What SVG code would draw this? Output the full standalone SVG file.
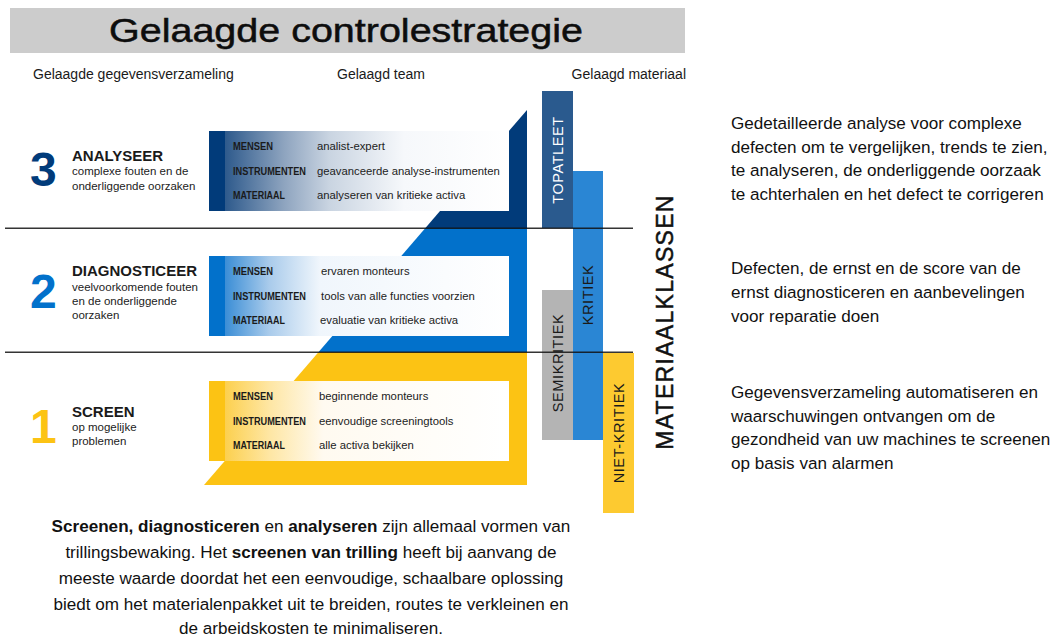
<svg xmlns="http://www.w3.org/2000/svg" width="1054" height="637" viewBox="0 0 1054 637">
<defs>
<style>
text{font-family:"Liberation Sans",Arial,sans-serif;fill:#1a1a1a}
.sub{font-size:14px}
.num{font-size:48px;font-weight:bold}
.lvl{font-size:15px;font-weight:bold}
.desc{font-size:11.5px;fill:#222}
.lab{font-size:11.5px;font-weight:bold}
.val{font-size:11.3px;fill:#222}
.bar{font-size:14.5px;letter-spacing:0.6px;text-anchor:middle;dominant-baseline:central}
.rt{font-size:17.1px;fill:#111}
.bt{font-size:17.1px;fill:#111;text-anchor:middle}
.b{font-weight:bold}
</style>
<linearGradient id="g3" gradientUnits="userSpaceOnUse" x1="209" y1="0" x2="509" y2="0">
<stop offset="0" stop-color="#2e5a8c"/><stop offset="0.054" stop-color="#2e5a8c"/><stop offset="0.25" stop-color="#8ea4bf"/><stop offset="0.4" stop-color="#c9d4e1"/><stop offset="0.65" stop-color="#f6f8fb"/><stop offset="1" stop-color="#ffffff"/>
</linearGradient>
<linearGradient id="g2" gradientUnits="userSpaceOnUse" x1="209" y1="0" x2="509" y2="0">
<stop offset="0" stop-color="#3b8ed6"/><stop offset="0.054" stop-color="#3b8ed6"/><stop offset="0.2" stop-color="#a9cbeb"/><stop offset="0.37" stop-color="#f0f6fc"/><stop offset="1" stop-color="#ffffff"/>
</linearGradient>
<linearGradient id="g1" gradientUnits="userSpaceOnUse" x1="209" y1="0" x2="509" y2="0">
<stop offset="0" stop-color="#fcd04f"/><stop offset="0.054" stop-color="#fcd04f"/><stop offset="0.2" stop-color="#fee6a3"/><stop offset="0.38" stop-color="#fffaf0"/><stop offset="1" stop-color="#ffffff"/>
</linearGradient>
</defs>
<rect width="1054" height="637" fill="#ffffff"/>

<g id="title">
<rect x="10" y="8" width="675" height="45" fill="#cccccc"/>
<text x="346" y="42" font-size="33" text-anchor="middle" textLength="474" lengthAdjust="spacingAndGlyphs" style="fill:#0d0d0d;stroke:#0d0d0d;stroke-width:0.5">Gelaagde controlestrategie</text>
</g>

<g id="subheads">
<text class="sub" x="33" y="79">Gelaagde gegevensverzameling</text>
<text class="sub" x="337" y="79">Gelaagd team</text>
<text class="sub" x="686" y="79" text-anchor="end">Gelaagd materiaal</text>
</g>

<g id="bands">
<polygon points="527,110 527,228 425.4,228" fill="#013b7a"/>
<polygon points="425.4,228 527,228 527,352 318.6,352" fill="#0271cb"/>
<polygon points="318.6,352 527,352 527,485 204,485" fill="#fcc314"/>
</g>

<g id="level3">
<text class="num" x="30" y="186" style="fill:#013b7a">3</text>
<text class="lvl" x="72" y="161">ANALYSEER</text>
<text class="desc" x="72" y="175">complexe fouten en de</text>
<text class="desc" x="72" y="190">onderliggende oorzaken</text>
<rect x="209" y="131" width="300" height="80" fill="url(#g3)"/>
<rect x="209" y="131" width="16" height="80" fill="#013b7a"/>
<text class="lab" x="233" y="150" textLength="40" lengthAdjust="spacingAndGlyphs">MENSEN</text>
<text class="lab" x="233" y="175" textLength="73" lengthAdjust="spacingAndGlyphs">INSTRUMENTEN</text>
<text class="lab" x="233" y="199" textLength="52" lengthAdjust="spacingAndGlyphs">MATERIAAL</text>
<text class="val" x="317" y="150">analist-expert</text>
<text class="val" x="317" y="175">geavanceerde analyse-instrumenten</text>
<text class="val" x="317" y="199">analyseren van kritieke activa</text>
</g>

<g id="level2">
<text class="num" x="30" y="308" style="fill:#0271cb">2</text>
<text class="lvl" x="72" y="276">DIAGNOSTICEER</text>
<text class="desc" x="72" y="291">veelvoorkomende fouten</text>
<text class="desc" x="72" y="305">en de onderliggende</text>
<text class="desc" x="72" y="319">oorzaken</text>
<rect x="209" y="256" width="300" height="80" fill="url(#g2)"/>
<rect x="209" y="256" width="16" height="80" fill="#0271cb"/>
<text class="lab" x="233" y="275" textLength="40" lengthAdjust="spacingAndGlyphs">MENSEN</text>
<text class="lab" x="233" y="300" textLength="73" lengthAdjust="spacingAndGlyphs">INSTRUMENTEN</text>
<text class="lab" x="233" y="324" textLength="52" lengthAdjust="spacingAndGlyphs">MATERIAAL</text>
<text class="val" x="321" y="275">ervaren monteurs</text>
<text class="val" x="321" y="300">tools van alle functies voorzien</text>
<text class="val" x="320" y="324">evaluatie van kritieke activa</text>
</g>

<g id="level1">
<text class="num" x="30" y="443" style="fill:#fcc314">1</text>
<text class="lvl" x="72" y="417">SCREEN</text>
<text class="desc" x="72" y="431">op mogelijke</text>
<text class="desc" x="72" y="445">problemen</text>
<rect x="209" y="381" width="300" height="80" fill="url(#g1)"/>
<rect x="209" y="381" width="16" height="80" fill="#fcc314"/>
<text class="lab" x="233" y="400" textLength="40" lengthAdjust="spacingAndGlyphs">MENSEN</text>
<text class="lab" x="233" y="425" textLength="73" lengthAdjust="spacingAndGlyphs">INSTRUMENTEN</text>
<text class="lab" x="233" y="449" textLength="52" lengthAdjust="spacingAndGlyphs">MATERIAAL</text>
<text class="val" x="319" y="400">beginnende monteurs</text>
<text class="val" x="319" y="425">eenvoudige screeningtools</text>
<text class="val" x="319" y="449">alle activa bekijken</text>
</g>

<g id="material-classes">
<g id="topatleet"><rect x="542" y="91" width="31" height="137" fill="#2a5a8e"/>
<text class="bar" transform="translate(557.5,160) rotate(-90)" style="fill:#ffffff">TOPATLEET</text></g>
<g id="kritiek"><rect x="573" y="171" width="30" height="269" fill="#2a86d4"/>
<text class="bar" transform="translate(588,295) rotate(-90)">KRITIEK</text></g>
<g id="semikritiek"><rect x="542" y="290" width="31" height="150" fill="#b4b4b4"/>
<text class="bar" transform="translate(557.5,363) rotate(-90)">SEMIKRITIEK</text></g>
<g id="niet-kritiek"><rect x="603" y="353" width="31" height="160" fill="#fdca30"/>
<text class="bar" transform="translate(618.5,433) rotate(-90)">NIET-KRITIEK</text></g>
<text transform="translate(665,322) rotate(-90)" font-size="23" letter-spacing="1.3" text-anchor="middle" dominant-baseline="central" style="fill:#111;stroke:#111;stroke-width:0.5">MATERIAALKLASSEN</text>
</g>

<g id="dividers" stroke="#111" stroke-width="1.5" stroke-opacity="0.85">
<line x1="5" y1="228.3" x2="633" y2="228.3"/>
<line x1="5" y1="352.3" x2="633" y2="352.3"/>
</g>

<g id="right-text">
<text class="rt" x="731" y="129">Gedetailleerde analyse voor complexe</text>
<text class="rt" x="731" y="152.5">defecten om te vergelijken, trends te zien,</text>
<text class="rt" x="731" y="176">te analyseren, de onderliggende oorzaak</text>
<text class="rt" x="731" y="199.5">te achterhalen en het defect te corrigeren</text>
<text class="rt" x="731" y="274">Defecten, de ernst en de score van de</text>
<text class="rt" x="731" y="298">ernst diagnosticeren en aanbevelingen</text>
<text class="rt" x="731" y="322">voor reparatie doen</text>
<text class="rt" x="731" y="398">Gegevensverzameling automatiseren en</text>
<text class="rt" x="731" y="421.5">waarschuwingen ontvangen om de</text>
<text class="rt" x="731" y="445">gezondheid van uw machines te screenen</text>
<text class="rt" x="731" y="469">op basis van alarmen</text>
</g>

<g id="bottom-text">
<text class="bt" x="311" y="532"><tspan class="b">Screenen, diagnosticeren</tspan> en <tspan class="b">analyseren</tspan> zijn allemaal vormen van</text>
<text class="bt" x="311" y="558">trillingsbewaking. Het <tspan class="b">screenen van trilling</tspan> heeft bij aanvang de</text>
<text class="bt" x="311" y="584">meeste waarde doordat het een eenvoudige, schaalbare oplossing</text>
<text class="bt" x="311" y="610">biedt om het materialenpakket uit te breiden, routes te verkleinen en</text>
<text class="bt" x="311" y="634">de arbeidskosten te minimaliseren.</text>
</g>
</svg>
